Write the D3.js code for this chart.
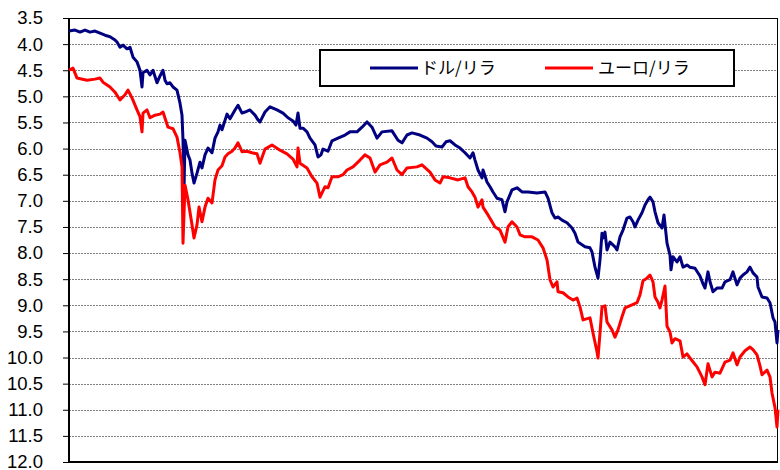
<!DOCTYPE html>
<html>
<head>
<meta charset="utf-8">
<script src="https://cdn.jsdelivr.net/npm/d3@7"></script>
<style>
  body { margin: 0; background: #fff; }
  svg { display: block; }
</style>
</head>
<body>
<div id="chart"></div>
<script>
// day offsets from the first observation, and rates (lira per unit)
const usdDay = [0,12,22,32,42,52,62,72,82,92,96,102,108,116,122,128,136,142,146,148,156,162,168,176,182,188,192,196,202,208,216,222,226,228,230,232,238,242,246,250,256,262,266,272,278,286,292,298,302,306,316,322,332,338,346,352,362,372,378,382,392,402,416,428,438,448,454,458,462,468,476,482,492,498,504,508,518,526,538,552,562,576,586,596,606,616,626,646,658,666,676,686,702,716,726,734,746,754,762,772,782,792,802,808,812,818,826,828,836,842,848,856,866,872,876,886,896,906,918,936,952,958,966,972,978,986,996,1006,1012,1018,1026,1032,1042,1046,1052,1058,1062,1066,1068,1072,1076,1082,1092,1096,1102,1108,1116,1122,1128,1132,1138,1146,1152,1158,1162,1168,1172,1178,1186,1190,1196,1202,1204,1208,1216,1222,1228,1236,1242,1252,1262,1268,1272,1278,1282,1288,1296,1306,1312,1322,1328,1336,1342,1348,1356,1362,1368,1376,1378,1386,1396,1402,1408,1412,1416,1418];
const usdTry = [3.75,3.73,3.77,3.73,3.77,3.75,3.79,3.83,3.86,3.92,3.96,4.06,4.02,4.09,4.06,4.25,4.34,4.50,4.82,4.55,4.50,4.59,4.50,4.74,4.61,4.50,4.69,4.76,4.74,4.82,4.88,5.13,5.36,5.84,6.80,5.84,6.12,6.22,6.47,6.66,6.47,6.26,6.37,6.12,5.99,6.08,5.80,5.68,5.55,5.64,5.34,5.43,5.26,5.17,5.32,5.30,5.26,5.36,5.45,5.49,5.30,5.20,5.26,5.32,5.41,5.47,5.55,5.32,5.61,5.61,5.68,5.80,5.93,6.16,6.12,6.01,6.05,5.85,5.80,5.74,5.68,5.68,5.59,5.49,5.59,5.80,5.68,5.66,5.84,5.89,5.74,5.70,5.74,5.80,5.87,5.95,5.97,5.87,5.85,5.93,5.99,6.08,6.18,6.08,6.22,6.41,6.56,6.41,6.64,6.73,6.83,6.95,6.98,7.21,7.02,6.79,6.75,6.83,6.83,6.85,6.83,6.95,7.23,7.33,7.31,7.37,7.42,7.52,7.62,7.79,7.84,7.88,7.90,7.98,8.27,8.48,8.13,7.62,7.71,7.60,7.94,7.79,7.88,7.94,7.69,7.56,7.33,7.31,7.40,7.50,7.37,7.23,7.08,6.98,6.93,7.02,7.21,7.42,7.52,7.27,7.81,8.04,8.32,8.07,8.17,8.07,8.27,8.23,8.27,8.29,8.44,8.59,8.67,8.36,8.55,8.74,8.67,8.67,8.55,8.51,8.36,8.61,8.48,8.42,8.36,8.27,8.38,8.46,8.65,8.84,8.86,8.95,9.24,9.32,9.72,9.47];

const eurDay = [0,8,16,36,52,62,68,82,92,102,112,118,126,136,142,146,148,156,162,172,182,188,198,208,216,222,226,228,232,238,246,250,256,260,266,272,278,286,292,298,306,312,318,326,332,338,346,356,366,376,382,392,406,422,436,448,456,458,462,476,486,496,502,512,518,526,538,548,556,568,582,592,602,612,622,636,646,656,666,676,696,706,722,732,742,748,762,778,792,798,806,812,818,826,828,838,846,852,862,872,878,886,896,902,912,926,938,948,956,962,968,976,978,988,998,1008,1016,1022,1028,1042,1048,1056,1058,1062,1066,1072,1076,1086,1092,1098,1106,1112,1126,1136,1142,1148,1156,1162,1168,1172,1178,1182,1186,1192,1196,1202,1206,1212,1222,1228,1236,1242,1256,1266,1272,1278,1286,1292,1302,1312,1322,1328,1336,1342,1352,1362,1368,1376,1382,1386,1396,1402,1406,1412,1416,1418];
const eurTry = [4.50,4.46,4.65,4.69,4.67,4.65,4.73,4.82,4.92,5.07,4.97,4.88,5.03,5.26,5.39,5.68,5.32,5.26,5.41,5.36,5.34,5.30,5.59,5.62,5.78,6.08,6.35,7.81,6.70,6.98,7.46,7.71,7.46,7.12,7.40,7.12,6.95,7.04,6.60,6.41,6.33,6.16,6.10,6.05,5.99,5.89,6.06,6.05,6.08,6.10,6.28,6.01,5.93,6.03,6.10,6.20,6.35,5.99,6.28,6.37,6.54,6.66,6.93,6.73,6.75,6.54,6.54,6.50,6.41,6.35,6.22,6.12,6.18,6.45,6.31,6.26,6.18,6.41,6.50,6.37,6.35,6.31,6.45,6.60,6.66,6.54,6.56,6.60,6.56,6.73,6.83,6.93,7.12,6.98,7.12,7.27,7.40,7.50,7.56,7.79,7.50,7.40,7.50,7.65,7.69,7.69,7.75,7.90,8.13,8.51,8.65,8.55,8.74,8.76,8.84,8.90,8.86,9.03,9.28,9.24,9.53,9.89,10.01,9.53,9.03,9.01,9.32,9.47,9.61,9.47,9.22,9.05,8.99,8.95,8.80,8.53,8.48,8.42,8.55,8.84,8.94,9.05,8.90,8.63,9.40,9.51,9.72,9.64,9.68,9.99,9.93,10.01,10.18,10.37,10.52,10.12,10.37,10.28,10.30,10.09,10.05,9.91,10.14,9.99,9.87,9.80,9.85,9.95,10.16,10.33,10.24,10.37,10.68,10.96,11.33,11.00];

const yTicks = d3.range(3.5, 12.01, 0.5);
const seriesNames = ["ドル/リラ", "ユーロ/リラ"];
const seriesColors = ["#000080", "#ff0000"];

const W = 780, H = 470;
const margin = { top: 18, right: 2, bottom: 8, left: 69 };
const width = W - margin.left - margin.right;
const height = H - margin.top - margin.bottom;

const svg = d3.select("#chart").append("svg")
  .attr("width", W)
  .attr("height", H);

const g = svg.append("g")
  .attr("transform", `translate(${margin.left},${margin.top})`);

const x = d3.scaleLinear().domain([0, 1418]).range([0, width]);
const y = d3.scaleLinear().domain([3.5, 12]).range([0, height]);

// dotted gridlines
g.append("g")
  .selectAll("line")
  .data(yTicks.slice(1, -1))
  .join("line")
  .attr("x1", 0)
  .attr("x2", width)
  .attr("y1", d => Math.round(y(d)) + 0.5)
  .attr("y2", d => Math.round(y(d)) + 0.5)
  .attr("stroke", "#808080")
  .attr("stroke-dasharray", "2,1");

// plot border
g.append("rect")
  .attr("x", 0.5)
  .attr("y", 0.5)
  .attr("width", width - 1)
  .attr("height", height)
  .attr("fill", "none")
  .attr("stroke", "#000")
  .attr("stroke-width", 1);

const yAxis = d3.axisLeft(y)
  .tickValues(yTicks)
  .tickFormat(d3.format(".1f"))
  .tickSize(6)
  .tickPadding(20);

const ya = g.append("g").call(yAxis);
ya.select(".domain").remove();
ya.selectAll(".tick line").attr("stroke", "#000").attr("stroke-width", 1);
ya.selectAll(".tick text")
  .attr("x", -26)
  .attr("fill", "#000")
  .style("font-family", "'Liberation Sans', Arial, sans-serif")
  .style("font-size", "18.5px");

// axis lines
g.append("line")
  .attr("x1", 0).attr("x2", 0)
  .attr("y1", 0).attr("y2", height + 1)
  .attr("stroke", "#000").attr("stroke-width", 2);
g.append("line")
  .attr("x1", 0).attr("x2", width)
  .attr("y1", height).attr("y2", height)
  .attr("stroke", "#000").attr("stroke-width", 2);

const line = d3.line()
  .x(d => x(d[0]))
  .y(d => y(d[1]));

const series = [
  d3.zip(usdDay, usdTry),
  d3.zip(eurDay, eurTry)
];

g.selectAll(".series")
  .data(series)
  .join("path")
  .attr("class", "series")
  .attr("d", line)
  .attr("fill", "none")
  .attr("stroke", (d, i) => seriesColors[i])
  .attr("stroke-width", 3)
  .attr("stroke-linejoin", "round");

// legend
const legend = svg.append("g").attr("transform", "translate(320,50)");
legend.append("rect")
  .attr("width", 414)
  .attr("height", 36)
  .attr("fill", "#fff")
  .attr("stroke", "#000")
  .attr("stroke-width", 2);

const items = legend.selectAll(".item")
  .data(seriesNames)
  .join("g")
  .attr("class", "item")
  .attr("transform", (d, i) => `translate(${i === 0 ? 50 : 225},18)`);

items.append("line")
  .attr("x1", 0).attr("x2", 48)
  .attr("stroke", (d, i) => seriesColors[i])
  .attr("stroke-width", 3);

items.append("text")
  .attr("x", (d, i) => i === 0 ? 51 : 53)
  .attr("dy", "0.35em")
  .style("font-family", "'Noto Sans CJK JP', sans-serif")
  .style("font-size", "17px")
  .text(d => d);
</script>
</body>
</html>
